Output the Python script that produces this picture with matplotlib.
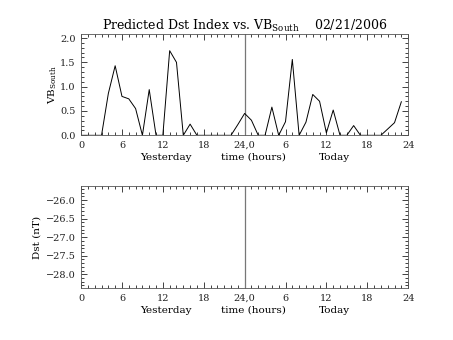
import matplotlib
matplotlib.use('Agg')
import matplotlib.pyplot as plt
from matplotlib.ticker import MultipleLocator, FixedLocator, FuncFormatter

plt.rcParams['font.family'] = 'DejaVu Serif'
plt.rcParams['mathtext.default'] = 'regular'

# hourly VB south, yesterday (0-23) then today (24-47)
hours = list(range(48))
vb_south = [0, 0, 0, 0, 0.86, 1.43, 0.80, 0.75, 0.55, 0, 0.94, 0, 0, 1.74, 1.50, 0,
            0.23, 0, 0, 0, 0, 0, 0, 0.22, 0.45, 0.31, 0, 0, 0.58, 0, 0.28, 1.56,
            0, 0.27, 0.84, 0.70, 0.05, 0.52, 0, 0, 0.20, 0, 0, 0, 0, 0.13, 0.26, 0.69]

xtick_pos = [0, 6, 12, 18, 24, 30, 36, 42, 48]
xtick_labels = ['0', '6', '12', '18', '24,0', '6', '12', '18', '24']
day_labels = ['Yesterday', 'time (hours)', 'Today']
day_label_x = [12.5, 25.3, 37.2]
dst_range = (-28.38, -25.62)


def fmt(v, pos):
    return ('%.1f' % v).replace('-', '\u2212')


fig = plt.figure(figsize=(4.53, 3.40), dpi=100)
ax1 = fig.add_axes([0.179, 0.602, 0.722, 0.299])
ax2 = fig.add_axes([0.179, 0.152, 0.722, 0.301])

ink = '#222222'
for ax in (ax1, ax2):
    ax.set_xlim(0, 48)
    ax.axvline(24, color='#777777', lw=0.9)
    ax.xaxis.set_major_locator(FixedLocator(xtick_pos))
    ax.set_xticklabels(xtick_labels)
    ax.xaxis.set_minor_locator(MultipleLocator(1))
    ax.yaxis.set_major_locator(MultipleLocator(0.5))
    ax.yaxis.set_minor_locator(MultipleLocator(0.1))
    ax.yaxis.set_major_formatter(FuncFormatter(fmt))
    ax.tick_params(which='both', direction='in', top=True, right=True,
                   colors=ink, labelsize=7, width=0.6, pad=4)
    ax.tick_params(which='major', length=4)
    ax.tick_params(which='minor', length=2)
    for s in ax.spines.values():
        s.set_linewidth(0.6)
        s.set_color('#555555')
    for lab, xx in zip(day_labels, day_label_x):
        ax.annotate(lab, xy=(xx, 0), xycoords=ax.get_xaxis_transform(),
                    xytext=(0, -17.6), textcoords='offset points',
                    ha='center', va='baseline', fontsize=7.5)

ax1.plot(hours, vb_south, color='black', lw=0.7)
ax1.set_ylim(0, 2.09)
ax1.set_ylabel('VB$_{South}$', fontsize=7.5, labelpad=1)
ax1.set_title('Predicted Dst Index vs. VB$_{South}$    02/21/2006',
              fontsize=9, pad=3)

ax2.set_ylim(*dst_range)
ax2.set_ylabel('Dst (nT)', fontsize=7.5, labelpad=3)

fig.savefig('out.png', dpi=100)
